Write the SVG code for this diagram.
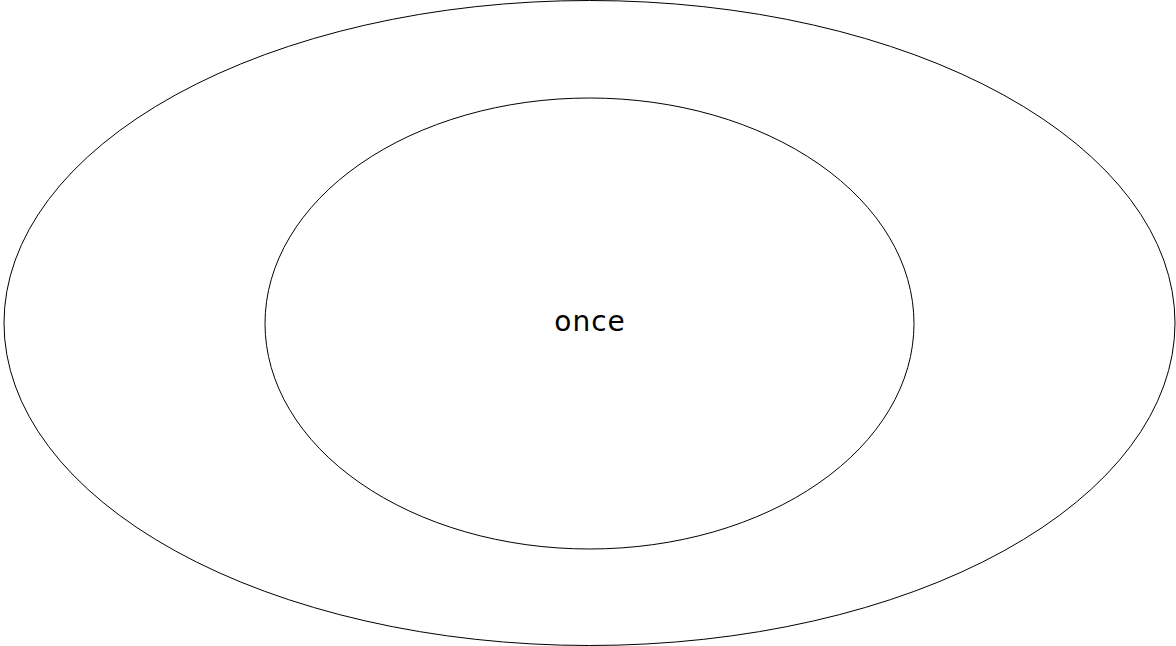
<svg xmlns="http://www.w3.org/2000/svg" width="1176" height="646" viewBox="0 0 1176 646">
<style>
.shape{fill:none;stroke:#000;stroke-width:1}
.label{font-family:"DejaVu Sans","Noto Sans",sans-serif;font-size:28px;letter-spacing:1px;fill:#000;text-anchor:middle}
</style>
<rect width="1176" height="646" fill="#fff"/>
<g id="outer">
<ellipse class="shape" cx="589.5" cy="323" rx="585.5" ry="322.5"/>
</g>
<g id="inner">
<ellipse class="shape" cx="589.5" cy="323.5" rx="324.5" ry="225.5"/>
<text class="label" x="590" y="331">once</text>
</g>
<g id="connectors"></g>
</svg>
